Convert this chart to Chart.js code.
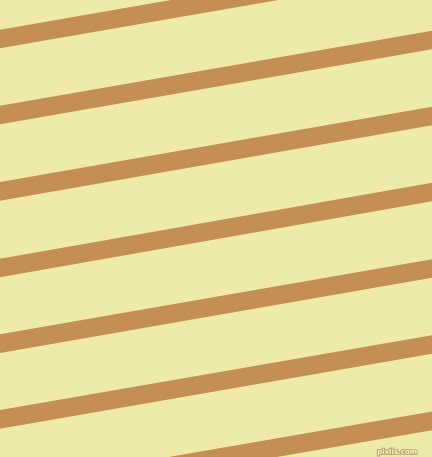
<!DOCTYPE html>
<html>
<head>
<meta charset="utf-8">
<script src="https://cdn.jsdelivr.net/npm/chart.js@4/dist/chart.umd.min.js"></script>
<style>
  html, body { margin: 0; padding: 0; background: #eeeaaa; }
  #wrap { width: 432px; height: 457px; position: relative; }
</style>
</head>
<body>
<div id="wrap"><canvas id="stripes"></canvas></div>
<script>
  // stripe centre heights (px from top) where each band meets the left and right edges
  const leftEdgeY = [39, 115, 191.3, 268, 343.7, 419.3, 495.5];
  const rightEdgeY = [-36, 40, 116, 192, 268.5, 344.5, 420.8];
  const edgeX = [0, 432];

  const bandColor = '#c48f53';
  const paperColor = '#eeeaaa';

  const paper = {
    id: 'paper',
    beforeDraw(chart) {
      const { ctx, width, height } = chart;
      ctx.save();
      ctx.fillStyle = paperColor;
      ctx.fillRect(0, 0, width, height);
      ctx.restore();
    },
    afterDraw(chart) {
      const { ctx, width, height } = chart;
      ctx.save();
      ctx.font = 'bold 7px "DejaVu Sans", sans-serif';
      ctx.textAlign = 'right';
      ctx.textBaseline = 'alphabetic';
      ctx.lineWidth = 2;
      ctx.strokeStyle = '#b9a56c';
      ctx.strokeText('pixlis.com', width - 15, height - 3);
      ctx.fillStyle = '#f6f2c8';
      ctx.fillText('pixlis.com', width - 15, height - 3);
      ctx.restore();
    }
  };

  const datasets = leftEdgeY.map((y0, i) => ({
    data: [{ x: edgeX[0], y: y0 }, { x: edgeX[1], y: rightEdgeY[i] }],
    borderColor: bandColor,
    borderWidth: 18.4,
    borderCapStyle: 'square',
    pointRadius: 0,
    fill: false,
    clip: false,
  }));

  new Chart(document.getElementById('stripes'), {
    type: 'line',
    data: { datasets },
    options: {
      responsive: true,
      maintainAspectRatio: false,
      animation: false,
      layout: { padding: 0 },
      events: [],
      scales: {
        x: { type: 'linear', min: 0, max: 432, display: false },
        y: { type: 'linear', min: 0, max: 457, reverse: true, display: false }
      },
      plugins: { legend: { display: false }, tooltip: { enabled: false } }
    },
    plugins: [paper]
  });
</script>
</body>
</html>
